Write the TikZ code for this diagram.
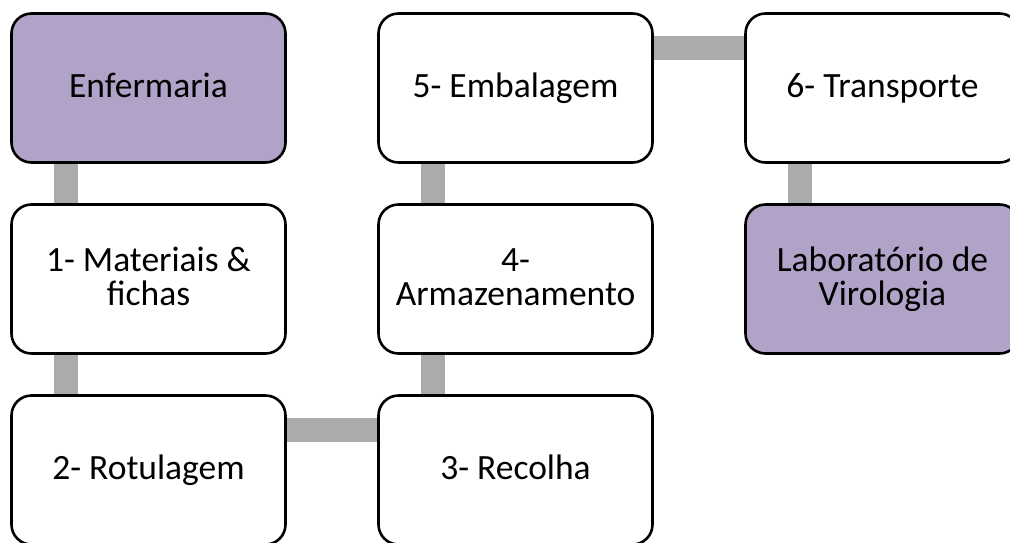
\documentclass[tikz,border=0pt]{standalone}
\usepackage{fontspec}
\setmainfont{Carlito}
\usetikzlibrary{backgrounds}
\definecolor{boxpurple}{HTML}{B1A2C8}
\definecolor{linkgray}{HTML}{ABABAB}
\newcommand{\ls}{\rule[-8pt]{0pt}{34pt}}
\tikzset{
  stepbox/.style={draw=black, line width=2.6pt, rounded corners=20pt, fill=white,
    minimum width=274pt, minimum height=149pt, inner sep=0pt, align=center,
    font=\fontsize{35.5}{34}\selectfont, text=black},
  endbox/.style={stepbox, fill=boxpurple},
  link/.style={draw=linkgray, line width=24pt, line cap=butt}
}
\begin{document}
\begin{tikzpicture}[x=1pt,y=-1pt]
\useasboundingbox (0,0) rectangle (1010,542);
\node[endbox]  (enf) at (148.5,88)  {\ls Enfermaria};
\node[stepbox] (mat) at (148.5,279) {\ls 1- Materiais \&\\\ls fichas};
\node[stepbox] (rot) at (148.5,470) {\ls 2- Rotulagem};
\node[stepbox] (rec) at (515.5,470) {\ls 3- Recolha};
\node[stepbox] (arm) at (515.5,279) {\ls 4-\\\ls Armazenamento};
\node[stepbox] (emb) at (515.5,88)  {\ls 5- Embalagem};
\node[stepbox] (tra) at (882.5,88)  {\ls 6- Transporte};
\node[endbox]  (lab) at (882.5,279) {\ls Laboratório de\\\ls Virologia};
\begin{pgfonlayer}{background}
\path[link] ([xshift=56pt]enf.south west) -- ([xshift=56pt]mat.north west);
\path[link] ([xshift=56pt]mat.south west) -- ([xshift=56pt]rot.north west);
\path[link] ([yshift=-36pt]rot.north east) -- ([yshift=-36pt]rec.north west);
\path[link] ([xshift=56pt]rec.north west) -- ([xshift=56pt]arm.south west);
\path[link] ([xshift=56pt]arm.north west) -- ([xshift=56pt]emb.south west);
\path[link] ([yshift=-36pt]emb.north east) -- ([yshift=-36pt]tra.north west);
\path[link] ([xshift=56pt]tra.south west) -- ([xshift=56pt]lab.north west);
\end{pgfonlayer}
\end{tikzpicture}
\end{document}
